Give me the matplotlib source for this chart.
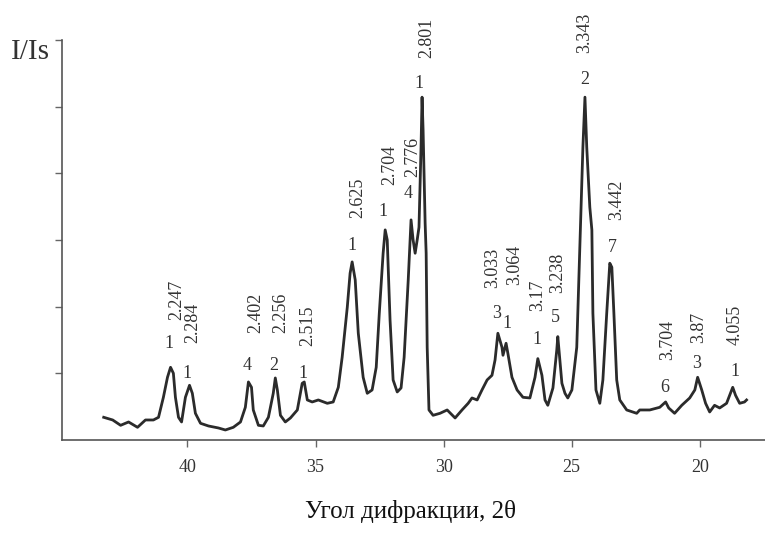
import matplotlib.pyplot as plt
plt.rcParams['font.family'] = ['Liberation Serif', 'DejaVu Serif']

# traced diffraction pattern (2theta, I/Is)
two_theta = [43.27, 42.92, 42.61, 42.30, 41.95, 41.64, 41.33, 41.13, 40.94, 40.78,
             40.66, 40.55, 40.47, 40.35, 40.23, 40.08, 39.92, 39.81, 39.69, 39.49,
             39.18, 38.79, 38.52, 38.21, 37.93, 37.74, 37.62, 37.50, 37.43, 37.23,
             37.04, 36.84, 36.65, 36.57, 36.49, 36.37, 36.18, 35.98, 35.71, 35.52,
             35.44, 35.32, 35.13, 34.89, 34.54, 34.31, 34.11, 33.96, 33.76, 33.65,
             33.57, 33.45, 33.33, 33.14, 32.98, 32.79, 32.63, 32.51, 32.36, 32.28,
             32.20, 32.09, 31.97, 31.81, 31.66, 31.54, 31.38, 31.27, 31.19, 31.11,
             31.03, 30.96, 30.88, 30.84, 30.80, 30.72, 30.68, 30.64, 30.57, 30.41,
             30.14, 29.86, 29.55, 29.28, 29.04, 28.89, 28.69, 28.50, 28.30, 28.11,
             27.99, 27.88, 27.72, 27.68, 27.56, 27.49, 27.33, 27.13, 26.90, 26.63,
             26.43, 26.32, 26.16, 26.04, 25.93, 25.73, 25.58, 25.54, 25.46, 25.38,
             25.26, 25.15, 24.99, 24.80, 24.68, 24.56, 24.48, 24.41, 24.29, 24.21,
             24.17, 24.05, 23.90, 23.78, 23.63, 23.51, 23.43, 23.35, 23.24, 23.12,
             22.85, 22.46, 22.34, 21.95, 21.56, 21.33, 21.21, 20.98, 20.70, 20.39,
             20.19, 20.08, 19.92, 19.77, 19.61, 19.42, 19.22, 18.95, 18.71, 18.60,
             18.44, 18.25, 18.17]
intensity = [0.34, 0.30, 0.22, 0.27, 0.19, 0.30, 0.30, 0.34, 0.64, 0.94,
             1.09, 1.00, 0.64, 0.34, 0.27, 0.64, 0.82, 0.70, 0.40, 0.25,
             0.21, 0.18, 0.15, 0.19, 0.27, 0.49, 0.87, 0.79, 0.45, 0.22,
             0.21, 0.34, 0.70, 0.93, 0.75, 0.37, 0.27, 0.33, 0.45, 0.85,
             0.87, 0.60, 0.57, 0.60, 0.55, 0.57, 0.79, 1.24, 1.99, 2.50,
             2.67, 2.40, 1.60, 0.94, 0.70, 0.75, 1.09, 1.90, 2.80, 3.15,
             3.00, 1.80, 0.90, 0.72, 0.78, 1.24, 2.40, 3.30, 3.00, 2.80,
             3.00, 3.19, 4.39, 5.14, 4.65, 3.25, 2.80, 1.39, 0.45, 0.37,
             0.40, 0.45, 0.33, 0.45, 0.55, 0.63, 0.60, 0.75, 0.90, 0.97,
             1.20, 1.60, 1.39, 1.27, 1.45, 1.30, 0.94, 0.75, 0.64, 0.63,
             0.94, 1.22, 0.97, 0.60, 0.52, 0.78, 1.35, 1.55, 1.20, 0.85,
             0.70, 0.63, 0.75, 1.39, 2.89, 4.39, 5.14, 4.39, 3.49, 3.15,
             1.90, 0.75, 0.55, 0.90, 1.90, 2.65, 2.59, 1.90, 0.90, 0.60,
             0.45, 0.40, 0.45, 0.45, 0.49, 0.57, 0.48, 0.40, 0.52, 0.63,
             0.75, 0.94, 0.75, 0.55, 0.42, 0.52, 0.48, 0.55, 0.79, 0.67,
             0.55, 0.57, 0.60]

# peak labels: d-spacing and the small number next to it
d_labels = ['2.247', '2.284', '2.402', '2.256', '2.515', '2.625', '2.704', '2.776',
            '2.801', '3.033', '3.064', '3.17', '3.238', '3.343', '3.442', '3.704',
            '3.87', '4.055']
num_labels = ['1', '1', '4', '2', '1', '1', '1', '4', '1', '3', '1', '1', '5', '2',
              '7', '6', '3', '1']
# label anchors (2theta, I) for the number and for the rotated d text
num_pos = [(40.74, 1.45), (40.0, 1.0), (37.66, 1.12), (36.65, 1.12), (35.48, 1.0),
           (33.57, 2.92), (32.36, 3.42), (31.38, 3.70), (30.96, 5.35), (27.91, 1.90),
           (27.52, 1.75), (26.35, 1.50), (25.65, 1.84), (24.48, 5.40), (23.43, 2.88),
           (21.36, 0.78), (20.12, 1.15), (18.64, 1.02)]
d_pos = [(40.42, 2.10), (39.80, 1.76), (37.35, 1.90), (36.37, 1.90), (35.32, 1.72),
         (33.37, 3.63), (32.09, 4.12), (31.19, 4.24), (30.64, 6.03), (28.07, 2.58),
         (27.21, 2.62), (26.32, 2.17), (25.54, 2.50), (24.48, 6.10), (23.24, 3.60),
         (21.25, 1.50), (20.04, 1.69), (18.60, 1.72)]

fig = plt.figure(figsize=(7.65, 5.35), dpi=100)
ax = fig.add_axes([0.081, 0.1776, 0.919, 0.748])

ax.plot(two_theta, intensity, color='#2b2b2b', lw=2.0)

for (nx, ny), n in zip(num_pos, num_labels):
    ax.text(nx, ny, n, fontsize=13, ha='center', va='center', color='#333333')
for (dx, dy), d in zip(d_pos, d_labels):
    ax.text(dx, dy, d, fontsize=13, rotation=90, ha='center', va='center',
            color='#333333', clip_on=False)

ax.set_xlim(44.9, 17.45)
ax.set_ylim(0, 6)
ax.set_xticks([40, 35, 30, 25, 20])
ax.set_yticks([1, 2, 3, 4, 5, 6])
ax.set_yticklabels([])
ax.tick_params(axis='both', direction='out', length=5, color='#666666', width=1)
ax.tick_params(axis='x', labelsize=13, pad=9, labelcolor='#333333')

for s in ['top', 'right']:
    ax.spines[s].set_visible(False)
for s in ['left', 'bottom']:
    ax.spines[s].set_color('#555555')
    ax.spines[s].set_linewidth(1.2)

fig.text(0.014, 0.903, 'I/Is', fontsize=21, va='center', ha='left', color='#333333')
fig.text(0.536, 0.043, 'Угол дифракции, 2θ', fontsize=18, ha='center', va='center',
         color='#111111')

plt.savefig('out.png', dpi=100)
